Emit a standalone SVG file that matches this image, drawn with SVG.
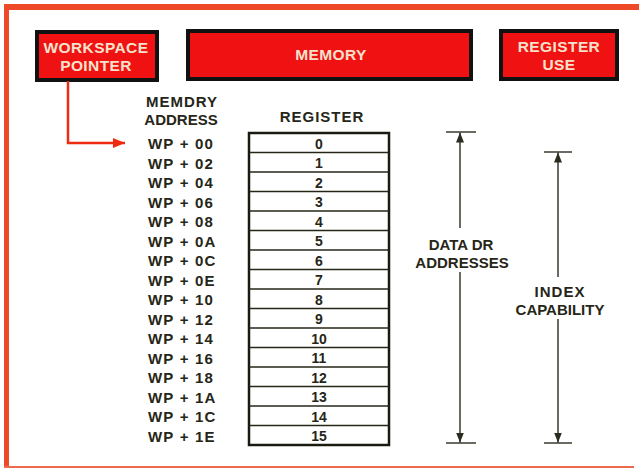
<svg xmlns="http://www.w3.org/2000/svg" width="639" height="469" viewBox="0 0 639 469">
<defs>
<style>
.t{font-family:"Liberation Sans",Arial,sans-serif;font-weight:bold;fill:#262618}
.bt{font-family:"Liberation Sans",Arial,sans-serif;font-weight:bold;fill:#f6e2cc;font-size:15.5px;text-anchor:middle;letter-spacing:0.4px}
.box{fill:#f01212;stroke:#111;stroke-width:4}
.wp{font-size:15px;letter-spacing:1.2px}
.num{font-size:14px;text-anchor:middle}
.row{stroke:#262618;stroke-width:1.3}
.dim{stroke:#2b2b20;stroke-width:1.4;fill:none}
.lbl{font-size:15px;text-anchor:middle}
</style>
<marker id="ah" markerWidth="10" markerHeight="8" refX="10" refY="4" orient="auto" markerUnits="userSpaceOnUse">
<path d="M0,0 L10,4 L0,8 Z" fill="#2b2b20"/>
</marker>
<marker id="rah" markerWidth="12" markerHeight="10" refX="12" refY="5" orient="auto" markerUnits="userSpaceOnUse">
<path d="M0,0 L12,5 L0,10 Z" fill="#ee2a10"/>
</marker>
</defs>
<rect width="639" height="469" fill="#ffffff"/>
<g id="frame">
<rect x="4" y="4" width="635" height="6" fill="#ee4a2a"/>
<rect x="4" y="4" width="5" height="464" fill="#ee4a2a"/>
<rect x="4" y="466" width="630" height="2" fill="#ee6a4a"/>
</g>
<g id="workspace-pointer">
<rect class="box" x="37" y="32" width="120" height="48"/>
<text class="bt" x="96" y="53">WORKSPACE</text>
<text class="bt" x="96" y="71">POINTER</text>
</g>
<g id="memory">
<rect class="box" x="188" y="31" width="283" height="48"/>
<text class="bt" x="331" y="60">MEMORY</text>
</g>
<g id="register-use">
<rect class="box" x="501" y="31" width="116" height="48"/>
<text class="bt" x="559" y="52">REGISTER</text>
<text class="bt" x="559" y="70">USE</text>
</g>
<g id="headers">
<text class="t lbl" x="182" y="107" style="letter-spacing:1px">MEMDRY</text>
<text class="t lbl" x="181" y="125">ADDRESS</text>
<text class="t lbl" x="322" y="122" style="letter-spacing:1px">REGISTER</text>
</g>
<g id="addresses" class="t wp">
<text x="148" y="149">WP + 00</text>
<text x="148" y="168.5">WP + 02</text>
<text x="148" y="188">WP + 04</text>
<text x="148" y="207.5">WP + 06</text>
<text x="148" y="227">WP + 08</text>
<text x="148" y="246.5">WP + 0A</text>
<text x="148" y="266">WP + 0C</text>
<text x="148" y="285.5">WP + 0E</text>
<text x="148" y="305">WP + 10</text>
<text x="148" y="324.5">WP + 12</text>
<text x="148" y="344">WP + 14</text>
<text x="148" y="363.5">WP + 16</text>
<text x="148" y="383">WP + 18</text>
<text x="148" y="402.5">WP + 1A</text>
<text x="148" y="422">WP + 1C</text>
<text x="148" y="441.5">WP + 1E</text>
</g>
<g id="register-table">
<rect x="249" y="133" width="140" height="312" fill="#fff" stroke="#1a1a10" stroke-width="2.5"/>
<g class="row">
<line x1="249" y1="152.5" x2="389" y2="152.5"/>
<line x1="249" y1="172" x2="389" y2="172"/>
<line x1="249" y1="191.5" x2="389" y2="191.5"/>
<line x1="249" y1="211" x2="389" y2="211"/>
<line x1="249" y1="230.5" x2="389" y2="230.5"/>
<line x1="249" y1="250" x2="389" y2="250"/>
<line x1="249" y1="269.5" x2="389" y2="269.5"/>
<line x1="249" y1="289" x2="389" y2="289"/>
<line x1="249" y1="308.5" x2="389" y2="308.5"/>
<line x1="249" y1="328" x2="389" y2="328"/>
<line x1="249" y1="347.5" x2="389" y2="347.5"/>
<line x1="249" y1="367" x2="389" y2="367"/>
<line x1="249" y1="386.5" x2="389" y2="386.5"/>
<line x1="249" y1="406" x2="389" y2="406"/>
<line x1="249" y1="425.5" x2="389" y2="425.5"/>
</g>
<g class="t num">
<text x="319" y="148.5">0</text>
<text x="319" y="168">1</text>
<text x="319" y="187.5">2</text>
<text x="319" y="207">3</text>
<text x="319" y="226.5">4</text>
<text x="319" y="246">5</text>
<text x="319" y="265.5">6</text>
<text x="319" y="285">7</text>
<text x="319" y="304.5">8</text>
<text x="319" y="324">9</text>
<text x="319" y="343.5">10</text>
<text x="319" y="363">11</text>
<text x="319" y="382.5">12</text>
<text x="319" y="402">13</text>
<text x="319" y="421.5">14</text>
<text x="319" y="441">15</text>
</g>
</g>
<g id="data-or-addresses">
<text class="t lbl" x="461" y="250">DATA DR</text>
<text class="t lbl" x="462" y="268">ADDRESSES</text>
</g>
<g id="index-capability">
<text class="t lbl" x="560" y="297" style="letter-spacing:1px">INDEX</text>
<text class="t lbl" x="560" y="315">CAPABILITY</text>
</g>
<g id="connectors">
<path d="M68,81 V143 H125" stroke="#ee2a10" stroke-width="2.5" fill="none" marker-end="url(#rah)"/>
<g class="dim">
<line x1="446" y1="132" x2="476" y2="132"/>
<line x1="446" y1="443" x2="476" y2="443"/>
<line x1="460" y1="228" x2="460" y2="132.5" marker-end="url(#ah)"/>
<line x1="460" y1="272" x2="460" y2="442.5" marker-end="url(#ah)"/>
<line x1="544" y1="152" x2="572" y2="152"/>
<line x1="544" y1="443" x2="572" y2="443"/>
<line x1="558" y1="277" x2="558" y2="152.5" marker-end="url(#ah)"/>
<line x1="558" y1="319" x2="558" y2="442.5" marker-end="url(#ah)"/>
</g>
</g>
</svg>
